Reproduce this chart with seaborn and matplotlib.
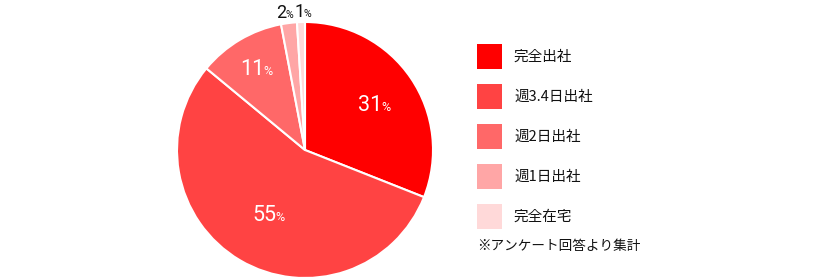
import numpy as np
import matplotlib
matplotlib.use("Agg")
import matplotlib.pyplot as plt
import seaborn as sns
from matplotlib.patches import Rectangle

categories = ["完全出社", "週3.4日出社", "週2日出社", "週1日出社", "完全在宅"]
values = [31, 55, 11, 2, 1]
colors = ["#ff0000", "#ff4343", "#ff6868", "#ffa6a6", "#ffd9d9"]
note = "※アンケート回答より集計"

sns.set_theme(style="white")
plt.rcParams['font.family'] = ['Noto Sans CJK JP', 'DejaVu Sans']

W, H = 820, 280
fig = plt.figure(figsize=(W / 100, H / 100), dpi=100)
cx, cy, r = 305, 150, 128
ax = fig.add_axes([(cx - r) / W, (H - cy - r) / H, 2 * r / W, 2 * r / H])

wedges, _ = ax.pie(values, colors=colors, startangle=90, counterclock=False,
                   wedgeprops=dict(edgecolor="white", linewidth=1.5))
ax.set_xlim(-1, 1)
ax.set_ylim(-1, 1)
ax.set_aspect("equal")
ax.axis("off")

# label styling (distance from centre as fraction of radius, nudge in points)
dist = [0.65, 0.57, 0.75, 1.09, 1.09]
nudge = [0, 0, 0, -2.5, 1.5]
label_colors = ["white", "white", "white", "#111111", "#111111"]
num_fs = [15.5, 15.5, 15.5, 13, 13]
for w, v, d, c, fs, nx in zip(wedges, values, dist, label_colors, num_fs, nudge):
    ang = np.deg2rad((w.theta1 + w.theta2) / 2)
    x, y = d * np.cos(ang), d * np.sin(ang)
    pfs = fs * 0.58
    wn = len(str(v)) * 0.56 * fs
    wp = 0.6 * pfs
    off = (wn - wp) / 2 + nx
    base = -0.36 * fs
    ax.annotate(str(v), (x, y), xytext=(off, base), textcoords="offset points",
                ha="right", va="baseline", color=c, fontsize=fs,
                family=["Roboto", "DejaVu Sans"], annotation_clip=False)
    ax.annotate("%", (x, y), xytext=(off - 0.5, base), textcoords="offset points",
                ha="left", va="baseline", color=c, fontsize=pfs,
                family=["Roboto", "DejaVu Sans"], annotation_clip=False)

# legend drawn in figure pixel coordinates
sw, x0, top0, step, tx = 25, 477, 44, 40, 514
for i, (lab, col) in enumerate(zip(categories, colors)):
    top = top0 + i * step
    fig.patches.append(Rectangle((x0 / W, 1 - (top + sw) / H), sw / W, sw / H,
                                 transform=fig.transFigure, facecolor=col,
                                 edgecolor="none"))
    fig.text(tx / W, 1 - (top + sw / 2) / H, lab, fontsize=10.5,
             color="#111111", ha="left", va="center")

fig.text(x0 / W, 1 - 246 / H, note, fontsize=9.8, color="#111111",
         ha="left", va="center")

fig.savefig("out.png", dpi=100)
